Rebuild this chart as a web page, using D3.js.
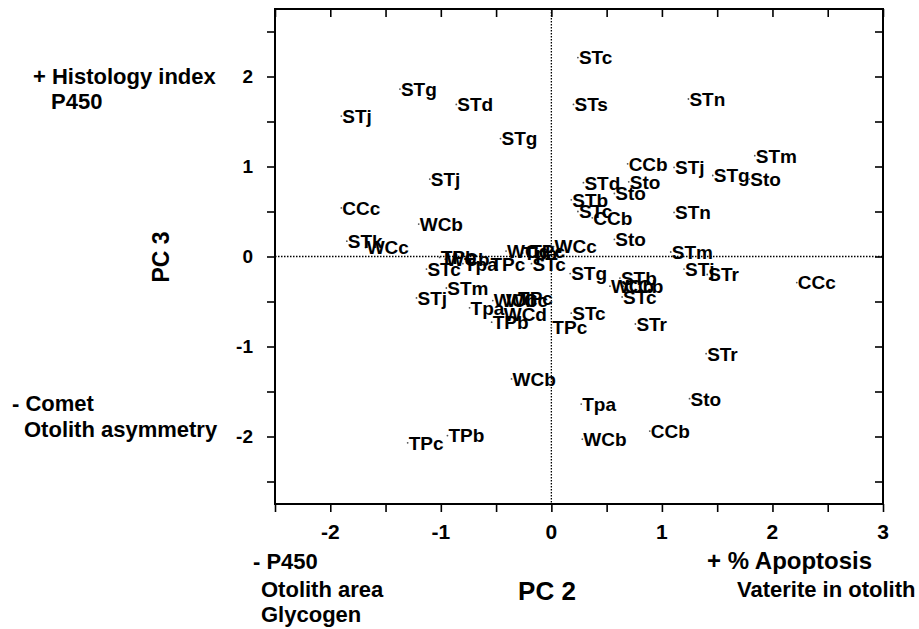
<!DOCTYPE html>
<html>
<head>
<meta charset="utf-8">
<script src="https://cdn.jsdelivr.net/npm/d3@7"></script>
<style>
  html, body { margin: 0; padding: 0; background: #fff; }
  svg { display: block; font-family: "Liberation Sans", Arial, Helvetica, sans-serif; font-weight: bold; }
</style>
</head>
<body>
<svg id="chart" width="919" height="629"></svg>
<script>
// ---- data (PC 2 / PC 3 scores) ----
const labels = [
  'STj', 'STg', 'STd', 'STg', 'STj', 'CCc', 'WCb', 'STk', 'WCc',
  'STc', 'TPb', 'WCb', 'Tpa', 'TPc', 'WCd', 'Tpa', 'TPc', 'STc', 'WCc',
  'STj', 'STm', 'Tpa', 'WCb', 'WCc', 'TPc', 'WCd', 'TPb', 'TPc', 'STc',
  'STg', 'STb', 'WCb', 'CCb', 'STc', 'STr', 'STj', 'STr', 'CCc',
  'STr', 'Sto', 'CCb', 'WCb', 'Tpa', 'WCb', 'TPc', 'TPb',
  'STc', 'STs', 'STn', 'STm', 'CCb', 'STj', 'STg', 'Sto', 'STd', 'Sto',
  'Sto', 'STb', 'STc', 'CCb', 'STn', 'Sto', 'STm'
];
const pc2 = [
  -1.90, -1.37, -0.86, -0.46, -1.10, -1.90, -1.20, -1.85, -1.68,
  -1.13, -1.01, -0.96, -0.80, -0.56, -0.41, -0.26, -0.20, -0.18, 0.02,
  -1.22, -0.95, -0.74, -0.53, -0.42, -0.31, -0.44, -0.54, 0.00, 0.18,
  0.17, 0.62, 0.53, 0.65, 0.64, 0.76, 1.20, 1.41, 2.22,
  1.40, 1.25, 0.89, 0.28, 0.27, -0.36, -1.30, -0.94,
  0.24, 0.20, 1.24, 1.84, 0.69, 1.11, 1.46, 1.79, 0.29, 0.70,
  0.57, 0.18, 0.24, 0.37, 1.11, 0.57, 1.08
];
const pc3 = [
  1.56, 1.86, 1.69, 1.31, 0.86, 0.54, 0.36, 0.17, 0.10,
  -0.14, -0.01, -0.03, -0.08, -0.08, 0.06, 0.04, 0.06, -0.08, 0.11,
  -0.46, -0.35, -0.57, -0.49, -0.48, -0.46, -0.64, -0.73, -0.79, -0.63,
  -0.19, -0.24, -0.33, -0.33, -0.45, -0.75, -0.14, -0.20, -0.29,
  -1.08, -1.58, -1.94, -2.03, -1.64, -1.36, -2.07, -1.99,
  2.21, 1.69, 1.75, 1.12, 1.03, 0.99, 0.90, 0.86, 0.82, 0.83,
  0.70, 0.63, 0.50, 0.43, 0.49, 0.19, 0.05
];

const xMajorTicks = [-2, -1, 0, 1, 2, 3];
const xMinorTicks = [-2.5, -1.5, -0.5, 0.5, 1.5, 2.5];
const yMajorTicks = [-2, -1, 0, 1, 2];
const yMinorTicks = [-2.5, -1.5, -0.5, 0.5, 1.5, 2.5];

// ---- layout ----
const svg = d3.select('#chart');
const plotL = 275, plotR = 883, plotT = 9, plotB = 504;

const x = d3.scaleLinear().domain([-2.5, 3]).range([plotL, plotR]);
const y = d3.scaleLinear().domain([-2.75, 2.75]).range([plotB, plotT]);

const allX = xMajorTicks.concat(xMinorTicks);
const allY = yMajorTicks.concat(yMinorTicks);

// zero reference lines (dotted)
svg.append('line')
  .attr('x1', x(0)).attr('x2', x(0)).attr('y1', plotT).attr('y2', plotB)
  .attr('stroke', '#000').attr('stroke-width', 1.3).attr('stroke-dasharray', '1.5,1.5');
svg.append('line')
  .attr('x1', plotL).attr('x2', plotR).attr('y1', y(0)).attr('y2', y(0))
  .attr('stroke', '#000').attr('stroke-width', 1.3).attr('stroke-dasharray', '1.5,1.5');

// bottom axis (ticks outward) and top mirror (ticks inward)
svg.append('g').attr('transform', `translate(0,${plotB})`)
  .call(d3.axisBottom(x).tickValues(allX).tickSize(8).tickFormat(''));
svg.append('g').attr('transform', `translate(0,${plotT})`)
  .call(d3.axisBottom(x).tickValues(allX).tickSize(8).tickFormat(''));

// left axis (ticks outward) and right mirror (ticks inward)
svg.append('g').attr('transform', `translate(${plotL},0)`)
  .call(d3.axisLeft(y).tickValues(allY).tickSize(8).tickFormat(''));
svg.append('g').attr('transform', `translate(${plotR},0)`)
  .call(d3.axisLeft(y).tickValues(allY).tickSize(8).tickFormat(''));

svg.selectAll('.domain').remove();
svg.selectAll('.tick line').attr('stroke', '#000').attr('stroke-width', 1.6);

// frame
svg.append('rect')
  .attr('x', plotL).attr('y', plotT)
  .attr('width', plotR - plotL).attr('height', plotB - plotT)
  .attr('fill', 'none').attr('stroke', '#000').attr('stroke-width', 2);

// tick labels
svg.selectAll('.xlab').data(xMajorTicks).enter().append('text')
  .attr('class', 'xlab')
  .attr('x', d => x(d)).attr('y', 539)
  .attr('text-anchor', 'middle').attr('font-size', 21)
  .text(d => d);
svg.selectAll('.ylab').data(yMajorTicks).enter().append('text')
  .attr('class', 'ylab')
  .attr('x', 253).attr('y', d => y(d)).attr('dy', '0.36em')
  .attr('text-anchor', 'end').attr('font-size', 19)
  .text(d => d);

// point markers + labels
const pts = labels.map((l, i) => ({ label: l, px: pc2[i], py: pc3[i] }));
const g = svg.append('g');
g.selectAll('circle').data(pts).enter().append('circle')
  .attr('cx', d => x(d.px)).attr('cy', d => y(d.py))
  .attr('r', 0.9).attr('fill', '#555');
g.selectAll('text').data(pts).enter().append('text')
  .attr('x', d => x(d.px) + 1).attr('y', d => y(d.py))
  .attr('dy', '0.36em').attr('font-size', 19)
  .text(d => d.label);

// axis titles
svg.append('text')
  .attr('x', 547).attr('y', 600).attr('text-anchor', 'middle')
  .attr('font-size', 26).text('PC 2');
svg.append('text')
  .attr('transform', 'translate(169,257) rotate(-90)')
  .attr('text-anchor', 'middle').attr('font-size', 23).text('PC 3');

// direction annotations
const notes = [
  ['+ Histology index', 33, 84, 22],
  ['P450', 51, 109, 22],
  ['- Comet', 12, 411, 22],
  ['Otolith asymmetry', 24, 437, 22],
  ['- P450', 253, 569, 22],
  ['Otolith area', 261, 597, 22],
  ['Glycogen', 261, 622, 22],
  ['+ % Apoptosis', 707, 569, 24],
  ['Vaterite in otolith', 737, 597, 22]
];
svg.selectAll('.note').data(notes).enter().append('text')
  .attr('class', 'note')
  .attr('x', d => d[1]).attr('y', d => d[2])
  .attr('font-size', d => d[3])
  .text(d => d[0]);
</script>
</body>
</html>
